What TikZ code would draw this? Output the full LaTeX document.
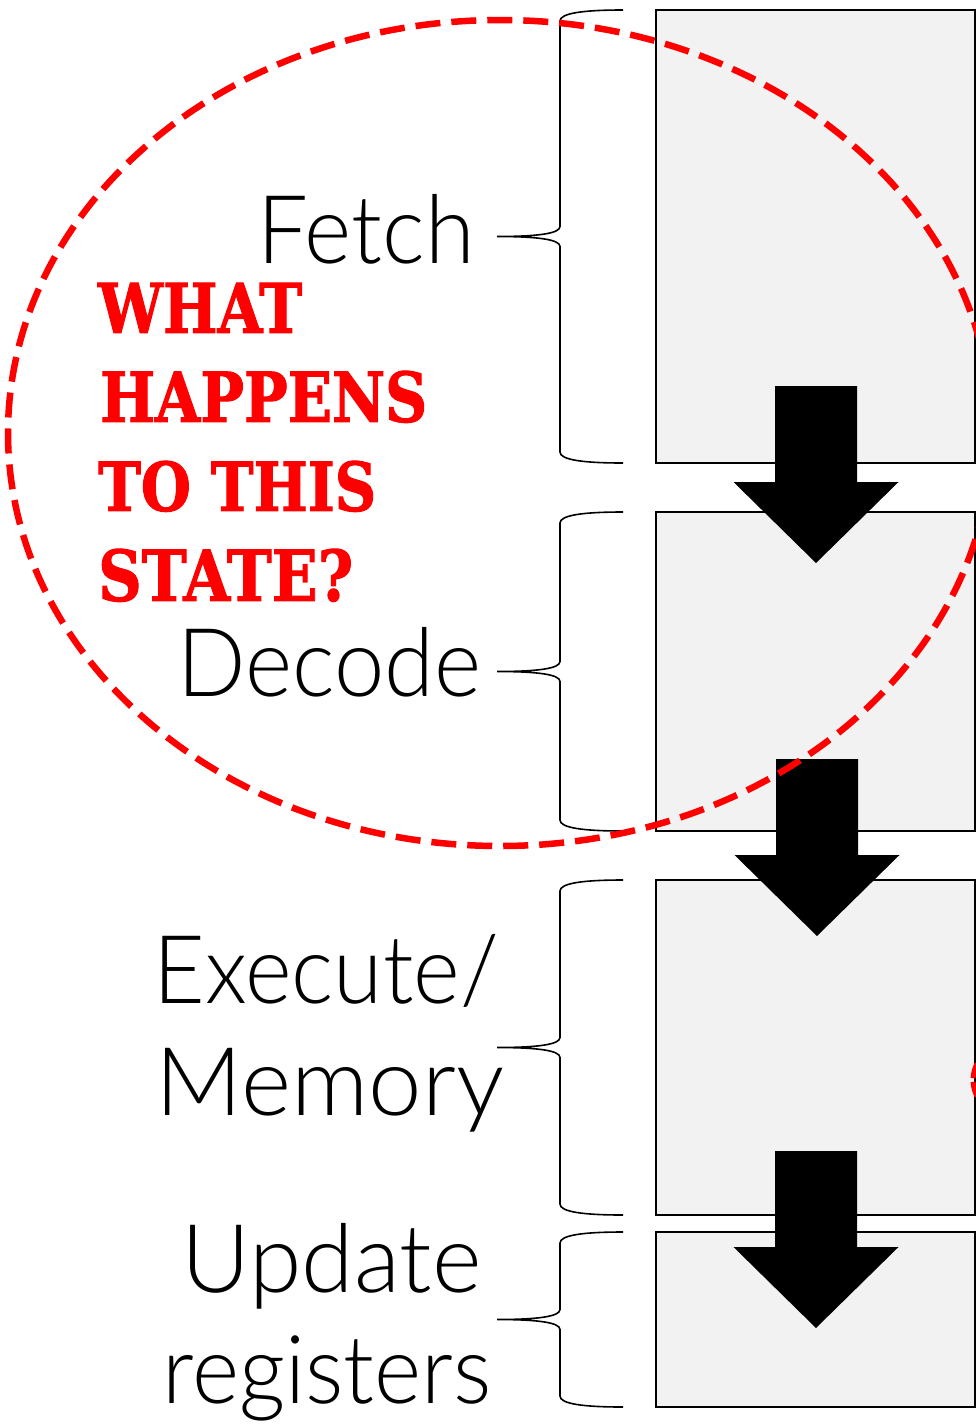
\documentclass[tikz,border=0pt]{standalone}
\usepackage{fontspec}
\IfFontExistsTF{Lato Light}{\setmainfont{Lato Light}}{\setmainfont{Lato}}
\newfontfamily\stencilfont{DejaVu Serif}[BoldFeatures={FakeBold=1.6}]
\definecolor{boxgray}{HTML}{F2F2F2}
\definecolor{alarm}{HTML}{FF0000}
\tikzset{
  stage/.style={rectangle, draw=black, line width=2pt, fill=boxgray,
    minimum width=319pt, inner sep=0pt, outer sep=0pt},
  brace/.style={draw=black, line width=1.6pt},
  ring/.style={draw=alarm, line width=6.5pt, dash pattern=on 25pt off 11pt},
  stagename/.style={font=\fontsize{95}{110}\selectfont, inner sep=0pt, anchor=base},
  question/.style={text=alarm, inner sep=0pt, anchor=south west,
    font=\stencilfont\bfseries\fontsize{60}{60}\selectfont},
  pics/flowarrow/.style={code={
    \fill[black] (-41,0) -- (41,0) -- (41,96) -- (82.5,96) -- (0,177)
      -- (-82.5,96) -- (-41,96) -- cycle;}}
}
\newcommand\narrow[2][0.95]{\scalebox{#1}[1]{#2}}
% curly brace to the left of a stage box, tip at the box's mid height
\newcommand\stagebrace[1]{%
  \draw[brace] ([shift={(-33,0)}]#1.north west)
    .. controls ([shift={(-72,0)}]#1.north west) and ([shift={(-96,3)}]#1.north west)
    .. ([shift={(-96,11)}]#1.north west)
    -- ([shift={(-96,-10)}]#1.west)
    .. controls ([shift={(-96,-3)}]#1.west) and ([shift={(-118,0)}]#1.west)
    .. ([shift={(-159,0)}]#1.west)
    .. controls ([shift={(-118,0)}]#1.west) and ([shift={(-96,3)}]#1.west)
    .. ([shift={(-96,10)}]#1.west)
    -- ([shift={(-96,-11)}]#1.south west)
    .. controls ([shift={(-96,-3)}]#1.south west) and ([shift={(-72,0)}]#1.south west)
    .. ([shift={(-33,0)}]#1.south west);}
\begin{document}
\begin{tikzpicture}[x=1pt, y=-1pt]
\useasboundingbox (0,0) rectangle (976,1428);
\fill[white] (0,0) rectangle (976,1428);

% pipeline stages
\node[stage, minimum height=453pt] (fetchbox)  at (815.5,236.5)  {};
\node[stage, minimum height=319pt] (decodebox) at (815.5,671.5)  {};
\node[stage, minimum height=335pt] (execbox)   at (815.5,1047.5) {};
\node[stage, minimum height=175pt] (updbox)    at (815.5,1319.5) {};

\stagebrace{fetchbox}
\stagebrace{decodebox}
\stagebrace{execbox}
\stagebrace{updbox}

% flow between stages
\coordinate (flowA) at (816,386);
\coordinate (flowB) at (817,759);
\coordinate (flowC) at (816,1151);
\pic at (flowA) {flowarrow};
\pic at (flowB) {flowarrow};
\pic at (flowC) {flowarrow};

% stage names
\node[stagename] (tfetch)  at (366,263)   {\narrow{Fetch}};
\node[stagename] (tdecode) at (329.5,696) {\narrow{Decode}};
\node[stagename] (texec)   at (326,1003)  {\narrow[0.94]{Execute/}};
\node[stagename] (tmem)    at (330,1115)  {\narrow[1.01]{Memory}};
\node[stagename] (tupd)    at (331.5,1292) {\narrow[1.0]{Update}};
\node[stagename] (tregs)   at (327,1403)  {\narrow{registers}};

% the question
\node[question] (q1) at (98,333) {\resizebox{204pt}{50pt}{WHAT}};
\node[question] (q2) at (100,423) {\resizebox{327pt}{51pt}{HAPPENS}};
\node[question] (q3) at (98,512) {\resizebox{278pt}{50pt}{TO THIS}};
\node[question] (q4) at (98,602) {\resizebox{255pt}{52pt}{STATE?}};

% dashed ring round fetch and decode
\draw[ring] (500,433) ellipse [x radius=492, y radius=413];

% edge of another ring beyond the right border
\draw[draw=alarm, line width=5pt] (1008,1080) ++(152:35) arc[start angle=152, end angle=177, radius=35];
\draw[draw=alarm, line width=5pt] (1008,1080) ++(183:35) arc[start angle=183, end angle=208, radius=35];
\end{tikzpicture}
\end{document}
